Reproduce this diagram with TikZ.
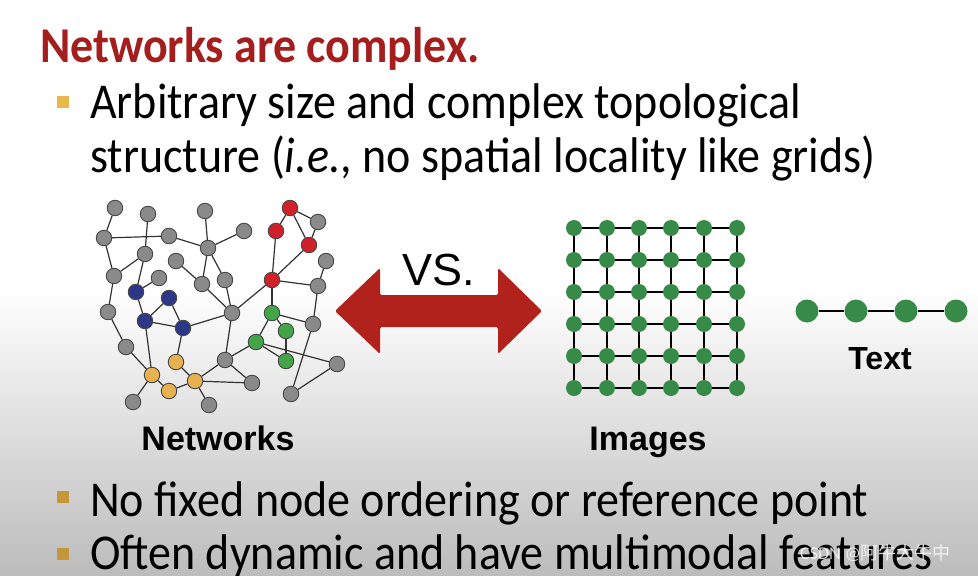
\documentclass[tikz,border=0pt]{standalone}
\usepackage{fontspec}
\setmainfont{Carlito}
\newfontfamily\arialf{Liberation Sans}
\newfontfamily\cjkf{Noto Sans CJK SC}
\definecolor{titlered}{RGB}{165,30,30}
\definecolor{bulletgold}{RGB}{232,184,74}
\definecolor{bulletdark}{RGB}{196,152,58}
\definecolor{nodegray}{RGB}{138,138,138}
\definecolor{nodered}{RGB}{210,32,42}
\definecolor{nodeblue}{RGB}{44,56,135}
\definecolor{nodegreen}{RGB}{68,165,72}
\definecolor{nodeorange}{RGB}{232,176,80}
\definecolor{gridgreen}{RGB}{55,138,72}
\definecolor{arrowred}{RGB}{178,34,28}
\definecolor{bgbottom}{RGB}{188,188,188}
\newcommand{\tallt}[1]{\scalebox{1}[1.09]{#1}}
\begin{document}
\begin{tikzpicture}[x=1pt,y=-1pt,
  nd/.style={circle,draw=black!72,line width=0.9pt,minimum size=15.5pt,inner sep=0pt,fill=nodegray},
  ndr/.style={nd,fill=nodered},
  ndb/.style={nd,fill=nodeblue},
  ndg/.style={nd,fill=nodegreen},
  ndo/.style={nd,fill=nodeorange},
  gn/.style={circle,fill=gridgreen,minimum size=16pt,inner sep=0pt},
  tn/.style={circle,fill=gridgreen,minimum size=23pt,inner sep=0pt},
  ed/.style={draw=black!80,line width=1.2pt},
  ge/.style={draw=black,line width=1.3pt},
  bul/.style={fill=bulletgold,minimum size=11.5pt,inner sep=0pt},
  body/.style={anchor=base west,inner sep=0pt,font=\fontsize{46}{50}\selectfont},
  lab/.style={anchor=base,inner sep=0pt,font=\arialf\bfseries\fontsize{34}{36}\selectfont}
]
\useasboundingbox (0,0) rectangle (978,576);
\fill[white] (0,0) rectangle (978,290);
\shade[top color=white,bottom color=bgbottom] (0,289) rectangle (978,576);

% title and bullets
\node[anchor=base west,inner sep=0pt,text=titlered,font=\bfseries\fontsize{46}{50}\selectfont] (title) at (40,62) {\tallt{Networks are complex.}};
\node[bul] (b1sq) at (63,102) {};
\node[body] (t1) at (90,118) {\tallt{Arbitrary size and complex topological}};
\node[body] (t2) at (90,172) {\tallt{structure (\textit{i.e.}, no spatial locality like grids)}};
\node[bul,fill=bulletdark] (b2sq) at (63,497) {};
\node[body] (t3) at (90,516) {\tallt{No fixed node ordering or reference point}};
\node[bul,fill=bulletdark] (b3sq) at (63,554) {};
\node[body] (t4) at (90,569) {\tallt{Often dynamic and have multimodal features}};

% network nodes
\node[nd] (g1) at (115,208) {};
\node[nd] (g2) at (148,214) {};
\node[nd] (g3) at (205,211) {};
\node[nd] (g4) at (104,238) {};
\node[nd] (g5) at (169,236) {};
\node[nd] (g6) at (244,231) {};
\node[nd] (g7) at (208,248) {};
\node[nd] (g8) at (145,254) {};
\node[nd] (g9) at (176,261) {};
\node[nd] (g10) at (114,276) {};
\node[nd] (g11) at (159,278) {};
\node[nd] (g12) at (202,284) {};
\node[nd] (g13) at (225,280) {};
\node[nd] (g14) at (108,312) {};
\node[nd] (g15) at (232,313) {};
\node[nd] (g16) at (126,347) {};
\node[nd] (g17) at (225,360) {};
\node[nd] (g18) at (252,383) {};
\node[nd] (g19) at (133,402) {};
\node[nd] (g20) at (209,405) {};
\node[nd] (g21) at (318,222) {};
\node[nd] (g22) at (326,261) {};
\node[nd] (g23) at (318,286) {};
\node[nd] (g24) at (313,324) {};
\node[nd] (g25) at (337,364) {};
\node[nd] (g26) at (291,394) {};
\node[ndr] (r1) at (290,208) {};
\node[ndr] (r2) at (276,231) {};
\node[ndr] (r3) at (309,245) {};
\node[ndr] (r4) at (272,280) {};
\node[ndb] (bl1) at (136,292) {};
\node[ndb] (bl2) at (169,298) {};
\node[ndb] (bl3) at (145,321) {};
\node[ndb] (bl4) at (183,328) {};
\node[ndg] (n1) at (272,313) {};
\node[ndg] (n2) at (286,331) {};
\node[ndg] (n3) at (256,342) {};
\node[ndg] (n4) at (286,361) {};
\node[ndo] (o1) at (176,362) {};
\node[ndo] (o2) at (152,375) {};
\node[ndo] (o3) at (195,381) {};
\node[ndo] (o4) at (169,391) {};

\foreach \a/\b in {g1/g4,g2/g8,g4/g5,g5/g7,g3/g7,g6/g7,g4/g10,g10/g8,g8/bl1,bl1/g11,
  g7/g12,g9/g12,g7/g13,g12/g15,g13/g15,g15/r4,g15/bl4,g15/g17,g10/g14,g14/g16,
  bl1/bl3,bl2/bl3,bl2/bl4,bl3/bl4,bl3/o2,g16/o2,o2/g19,o2/o4,o4/o3,o3/o1,o1/bl4,
  o3/g20,o3/g17,o3/g18,g17/g18,g17/n3,n3/n1,n1/r4,n1/n2,n1/g24,n2/n4,n3/n4,n3/g25,
  g25/g26,g24/g26,g24/g23,g23/g22,g23/r4,r4/r2,r4/r3,r1/r2,r1/g21,r1/r3,g21/r3}
  \draw[ed] (\a) -- (\b);

% arrow and VS.
\fill[arrowred,rounded corners=1.5pt] (335,311) -- (380,268) -- (380,295) -- (498,295) -- (498,268) -- (542,311) -- (498,354) -- (498,327) -- (380,327) -- (380,354) -- cycle;
\node[anchor=base,inner sep=0pt,font=\arialf\fontsize{45}{48}\selectfont] (vs) at (439,285) {VS.};

% image grid
\foreach \i/\x in {1/574,2/607,3/639,4/671,5/704,6/737}
  \foreach \j/\y in {1/228,2/260,3/292,4/324,5/356,6/388}
    \node[gn] (m-\i-\j) at (\x,\y) {};
\foreach \i in {1,...,6}
  \foreach \j/\k in {1/2,2/3,3/4,4/5,5/6} {
    \draw[ge] (m-\i-\j) -- (m-\i-\k);
    \draw[ge] (m-\j-\i) -- (m-\k-\i);
  }

% text sequence
\node[tn] (s1) at (807,311) {};
\node[tn] (s2) at (856,311) {};
\node[tn] (s3) at (906,311) {};
\node[tn] (s4) at (956,311) {};
\draw[ge] (s1) -- (s2); \draw[ge] (s2) -- (s3); \draw[ge] (s3) -- (s4);

% labels
\node[lab] (lnet) at (218,450) {Networks};
\node[lab] (limg) at (648,450) {Images};
\node[lab,font=\arialf\bfseries\fontsize{32}{35}\selectfont] (ltxt) at (880,369) {Text};

% watermark
\node[anchor=base west,inner sep=0pt,text=white,opacity=0.8,font=\fontsize{18}{20}\selectfont] (wm) at (800,559) {CSDN @{\cjkf 阿牛大牛中}};
\end{tikzpicture}
\end{document}
